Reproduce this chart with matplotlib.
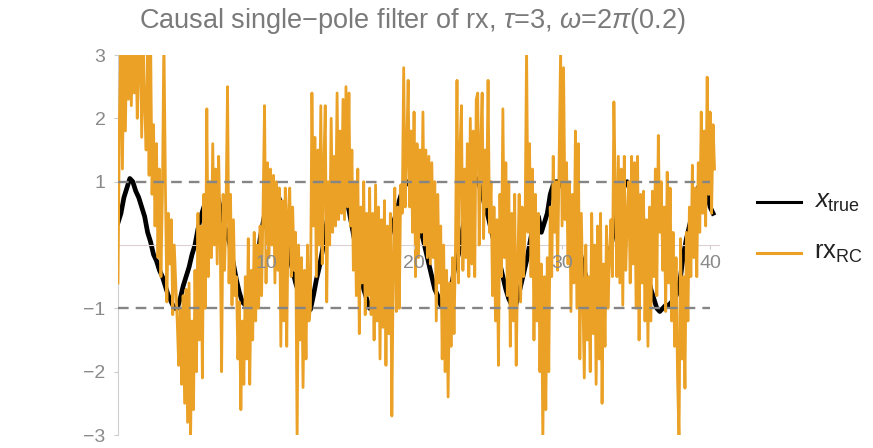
import numpy as np
import matplotlib.pyplot as plt
from matplotlib.lines import Line2D

plt.rcParams['font.family'] = ['Liberation Sans', 'DejaVu Sans']
plt.rcParams['mathtext.fontset'] = 'custom'
plt.rcParams['mathtext.rm'] = 'Liberation Sans'
plt.rcParams['mathtext.it'] = 'Liberation Sans:italic'

# noisy true signal, one sample every 0.2
dt_true = 0.2
x_true = [
    0.35, 0.5, 0.75, 0.9, 1.05, 1.0, 0.85, 0.75, 0.6, 0.45,
    0.2, 0.05, -0.15, -0.25, -0.4, -0.5, -0.65, -0.8, -0.9, -1.0,
    -1.0, -0.85, -0.65, -0.5, -0.35, -0.15, 0.0, 0.25, 0.45, 0.6,
    0.7, 0.85, 0.9, 0.85, 0.7, 0.5, 0.3, 0.15, -0.05, -0.3,
    -0.55, -0.75, -0.9, -0.95, -0.9, -0.75, -0.5, -0.25, 0.1, 0.35,
    0.6, 0.85, 1.0, 0.95, 0.8, 0.65, 0.4, 0.1, -0.2, -0.4,
    -0.6, -0.75, -0.85, -0.95, -1.0, -1.02, -0.8, -0.55, -0.35, -0.1,
    0.2, 0.5, 0.85, 0.9, 0.95, 1.0, 0.9, 0.8, 0.55, 0.3,
    0.05, -0.25, -0.5, -0.7, -0.85, -1.0, -0.95, -0.8, -0.6, -0.4,
    -0.2, 0.0, 0.2, 0.35, 0.5, 0.7, 0.85, 0.95, 1.0, 0.9,
    0.7, 0.45, 0.25, 0.1, -0.1, -0.3, -0.5, -0.7, -0.8, -0.95,
    -1.0, -0.9, -0.75, -0.55, -0.3, -0.15, 0.15, 0.4, 0.6, 0.8,
    0.95, 1.05, 0.95, 0.8, 0.6, 0.45, 0.25, 0.05, -0.15, -0.3,
    -0.5, -0.7, -0.85, -0.95, -1.0, -0.85, -0.65, -0.45, -0.25, 0.0,
    0.25, 0.4, 0.45, 0.2, 0.35, 0.5, 0.8, 0.95, 1.0, 1.0,
    0.95, 0.8, 0.65, 0.5, 0.35, 0.15, -0.1, -0.3, -0.5, -0.7,
    -0.85, -0.95, -1.0, -0.95, -0.75, -0.45, -0.15, 0.1, 0.35, 0.6,
    0.8, 0.95, 1.0, 0.85, 0.6, 0.35, 0.15, -0.05, -0.3, -0.5,
    -0.7, -0.85, -1.0, -1.05, -1.0, -0.95, -0.95, -0.9, -0.85, -0.75,
    -0.5, -0.15, 0.1, 0.3, 0.5, 0.7, 0.9, 1.0, 0.95, 0.8,
    0.6, 0.5,
]

# RC-filtered measurement, one sample every 0.1 (one row per unit of t)
dt_rc = 0.1
rx_rc = [
    -0.6, 2.0, 3.4, 1.2, 3.4, 1.8, 3.4, 2.3, 3.4, 2.2,
    3.4, 2.4, 3.4, 2.0, 2.9, 3.4, 1.7, 3.4, 2.2, 1.5,
    3.0, 1.1, 3.3, 0.8, 1.9, 0.3, 1.6, -0.2, 1.2, -0.5,
    0.8, 3.3, 1.0, -0.9, 0.5, -0.3, 0.4, -1.1, 0.0, -0.6,
    -1.2, -1.9, -1.0, -2.2, -0.8, -2.5, -0.7, -2.8, -0.6, -3.1,
    -1.2, -2.6, -0.4, -2.0, 0.5, -1.5, 0.3, -2.1, 0.8, -1.0,
    2.15, -0.5, 1.0, -0.2, 1.6, 0.0, 1.2, -0.3, 1.4, 0.2,
    -2.0, 0.8, -0.4, 0.6, 2.5, -0.6, 0.8, -0.95, 0.4, -0.8,
    -0.5, -1.8, -0.9, -2.6, -1.2, -2.2, -0.5, -1.8, 0.1, -2.2,
    -0.4, -1.5, 0.2, -1.2, 0.0, -1.0, 0.3, -0.8, 0.6, 2.2,
    -0.6, 1.3, -0.2, 1.2, 0.0, 1.1, -0.6, 1.0, -0.4, 0.9,
    -1.6, 0.7, -1.2, 0.9, -1.6, 0.5, 0.9, -0.5, 0.6, -0.4,
    0.2, -3.1, 0.0, -1.5, -0.2, -2.25, -0.4, -1.8, 0.0, -1.2,
    -1.0, 2.4, 0.3, 1.7, -0.5, 1.5, 0.0, 2.2, -0.3, 1.2,
    2.2, -0.9, 1.0, 0.0, 2.0, 0.2, 1.4, 0.3, 2.4, 0.4,
    1.8, 0.5, 2.3, 0.4, 2.5, 0.6, 2.4, 0.3, 1.5, -0.4,
    1.0, -0.8, 1.2, -1.4, 0.6, -0.6, 1.0, -1.1, 0.5, -0.8,
    0.9, -1.1, 0.5, -1.5, 0.95, -1.2, 0.6, -1.8, 0.4, -1.3,
    0.7, -1.9, 0.3, -1.4, 0.5, -2.7, -0.2, 0.9, -1.05, 0.6,
    -1.0, 0.95, 0.5, 2.8, 0.6, 1.4, 2.6, 0.6, 1.8, 0.2,
    2.1, -0.5, 1.6, -0.2, 1.5, 0.2, 2.1, 0.0, 1.5, -0.2,
    1.4, -0.3, 1.3, -0.2, 1.0, -1.2, 0.8, -0.6, 0.3, -1.8,
    0.0, -2.0, -0.4, -2.4, -0.6, -1.6, -0.2, -1.4, 0.0, 2.6,
    -0.6, 1.5, 2.2, -0.4, 1.2, -0.2, 1.6, -0.5, 2.0, -0.3,
    1.8, -0.5, 2.3, 2.4, 0.0, 1.6, 2.4, 0.1, 1.5, 0.6,
    2.6, 0.2, 1.0, -0.8, 0.6, -1.2, 0.4, -1.9, 0.8, -0.5,
    2.15, -0.2, 1.3, -0.8, 1.0, -1.6, 0.5, -1.2, 0.8, -1.9,
    -0.4, 0.8, -0.9, 0.6, -0.5, 0.3, 3.1, 0.2, 1.6, -0.5,
    1.2, -1.5, 0.8, -1.2, 0.5, -2.0, -0.3, -3.1, -0.5, -2.6,
    -0.2, -2.0, 0.6, -0.5, 1.4, 0.2, 1.0, -0.4, 1.3, 3.1,
    0.3, 2.8, 0.4, 1.3, -0.3, 1.0, -1.05, 0.8, -0.6, 1.8,
    -1.0, 1.6, -1.8, 0.5, -0.8, -2.1, 0.0, -1.5, -0.5, -2.0,
    0.5, -1.4, 0.0, -2.2, 0.3, -1.8, 0.5, -2.5, -0.3, -1.6,
    0.3, -1.0, -0.2, 0.4, -0.5, 2.26, 0.8, -0.5, 1.4, -0.6,
    1.2, -0.95, 1.4, -0.4, 0.4, 1.0, -0.6, 1.4, -0.3, 1.3,
    -1.0, 1.4, -1.5, 0.8, -0.6, 0.85, -1.2, 0.4, -1.6, 0.6,
    -1.2, 0.85, -0.5, 1.2, -0.8, 1.73, 0.2, 1.0, -0.4, 0.6,
    -1.05, 1.15, -0.6, 0.9, -1.2, 0.2, -1.6, -0.2, -2.1, -3.1,
    0.1, -1.8, -0.5, -2.26, 0.2, -1.2, 0.6, -0.5, 1.26, -0.2,
    0.9, -0.5, 1.3, 0.2, 2.1, 0.5, 1.8, 0.3, 2.65, 0.8,
    2.1, 0.5, 1.9, 1.2,
]

t_true = np.arange(len(x_true)) * dt_true
t_rc = np.arange(len(rx_rc)) * dt_rc

grey = '#8a8a8a'
orange = '#EAA126'

fig = plt.figure(figsize=(8.73, 4.48), dpi=100)
ax = fig.add_axes([118 / 873, 13 / 448, 601 / 873, 380 / 448])

ax.plot(t_true, x_true, color='black', lw=3.4, zorder=2, solid_joinstyle='round')
ax.plot(t_rc, rx_rc, color=orange, lw=2.0, zorder=3)
ax.hlines([-1, 1], 0, 40, colors='#858585', lw=1.7,
          linestyles=(0, (4.5, 3)), zorder=4)

ax.set_xlim(0, 40.6)
ax.set_ylim(-3, 3)

for side in ('top', 'right'):
    ax.spines[side].set_visible(False)
ax.spines['bottom'].set_position(('data', 0))
ax.spines['bottom'].set_color('#dcd0d0')
ax.spines['left'].set_color('#cfcfcf')
# tick numbers sit on top of the traces
ax.xaxis.set_zorder(5)

ax.set_xticks([10, 20, 30, 40])
ax.set_yticks([-3, -2, -1, 1, 2, 3])
ax.set_yticklabels(['\u22123', '\u22122', '\u22121', '1', '2', '3'])
ax.tick_params(axis='both', colors='#cccccc', labelcolor=grey,
               labelsize=14, length=3, width=0.8)
ax.tick_params(axis='x', pad=4)
ax.tick_params(axis='y', pad=6)

fig.text(412 / 873, 1 - 21 / 448,
         'Causal single\u2212pole filter of rx, $\\tau$=3, $\\omega$=2$\\pi$(0.2)',
         ha='center', va='center', fontsize=19.5, color='#7a7a7a')

# legend
for yy, col, lab in [(202, 'black', r'$x_{\mathrm{true}}$'),
                     (253, orange, r'$\mathrm{rx}_{\mathrm{RC}}$')]:
    fig.add_artist(Line2D([757 / 873, 801 / 873], [1 - yy / 448] * 2,
                          transform=fig.transFigure, color=col, lw=2.2))
    fig.text(814 / 873, 1 - yy / 448, lab, ha='left', va='center',
             fontsize=18.5, color='#222222')

fig.savefig('out.png', dpi=100)
